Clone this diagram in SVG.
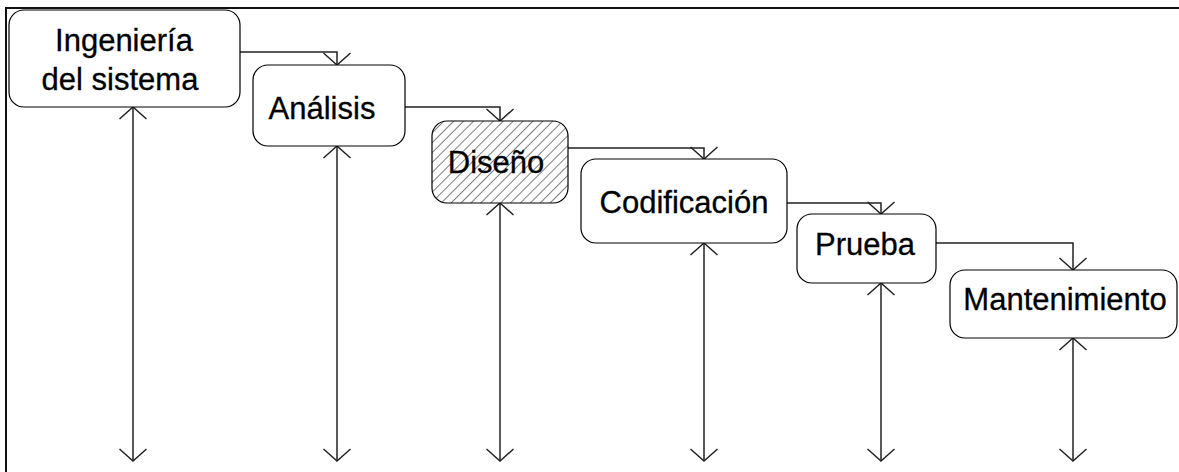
<svg xmlns="http://www.w3.org/2000/svg" width="1179" height="472" viewBox="0 0 1179 472">
<style>
.box{fill:#fff;stroke:#000;stroke-width:1.2}
.lbl{font-family:"Liberation Sans",Arial,sans-serif;font-size:31px;fill:#000;stroke:#000;stroke-width:0.3;text-anchor:middle}
.con{fill:none;stroke:#222;stroke-width:1.5}
.frame{fill:none;stroke:#111;stroke-width:2}
</style>
<defs>
<marker id="ah" viewBox="-15 -15 30 30" markerWidth="30" markerHeight="30" refX="0" refY="0" orient="auto" markerUnits="userSpaceOnUse">
<path d="M-12,-13.5 L0,0 L-12,13.5" fill="none" stroke="#222" stroke-width="1.5"/>
</marker>
<marker id="as" viewBox="-15 -15 30 30" markerWidth="30" markerHeight="30" refX="0" refY="0" orient="auto-start-reverse" markerUnits="userSpaceOnUse">
<path d="M-12,-13.5 L0,0 L-12,13.5" fill="none" stroke="#222" stroke-width="1.5"/>
</marker>
<pattern id="hatch" patternUnits="userSpaceOnUse" width="7" height="7" patternTransform="rotate(45)">
<rect width="7" height="7" fill="#fff"/>
<line x1="0" y1="0" x2="0" y2="7" stroke="#000" stroke-width="1"/>
</pattern>
</defs>
<path class="frame" d="M6,472 L6,8 L1179,8"/>
<g id="connectors">
<path class="con" d="M240,52 H337 V65" marker-end="url(#ah)"/>
<path class="con" d="M405,107 H500 V121" marker-end="url(#ah)"/>
<path class="con" d="M568,148 H704 V159" marker-end="url(#ah)"/>
<path class="con" d="M787,203 H881 V214" marker-end="url(#ah)"/>
<path class="con" d="M936,243 H1073 V270" marker-end="url(#ah)"/>
<line class="con" x1="133" y1="107" x2="133" y2="461" marker-start="url(#as)" marker-end="url(#ah)"/>
<line class="con" x1="337" y1="146" x2="337" y2="461" marker-start="url(#as)" marker-end="url(#ah)"/>
<line class="con" x1="500" y1="203" x2="500" y2="461" marker-start="url(#as)" marker-end="url(#ah)"/>
<line class="con" x1="704" y1="243" x2="704" y2="461" marker-start="url(#as)" marker-end="url(#ah)"/>
<line class="con" x1="881" y1="283" x2="881" y2="461" marker-start="url(#as)" marker-end="url(#ah)"/>
<line class="con" x1="1073" y1="338" x2="1073" y2="461" marker-start="url(#as)" marker-end="url(#ah)"/>
</g>
<g id="ingenieria">
<rect class="box" x="9" y="10" width="231" height="97" rx="15"/>
<text class="lbl" x="124" y="51">Ingeniería</text>
<text class="lbl" x="120" y="90">del sistema</text>
</g>
<g id="analisis">
<rect class="box" x="253" y="65" width="152" height="81" rx="15"/>
<text class="lbl" x="322" y="119">Análisis</text>
</g>
<g id="diseno">
<rect class="box" x="432" y="121" width="136" height="82" rx="15" style="fill:url(#hatch)"/>
<text class="lbl" x="496" y="173">Diseño</text>
</g>
<g id="codificacion">
<rect class="box" x="581" y="159" width="206" height="84" rx="15"/>
<text class="lbl" x="684" y="213">Codificación</text>
</g>
<g id="prueba">
<rect class="box" x="797" y="214" width="139" height="69" rx="15"/>
<text class="lbl" x="865" y="255">Prueba</text>
</g>
<g id="mantenimiento">
<rect class="box" x="950" y="270" width="227" height="68" rx="15"/>
<text class="lbl" x="1065" y="310">Mantenimiento</text>
</g>
</svg>
